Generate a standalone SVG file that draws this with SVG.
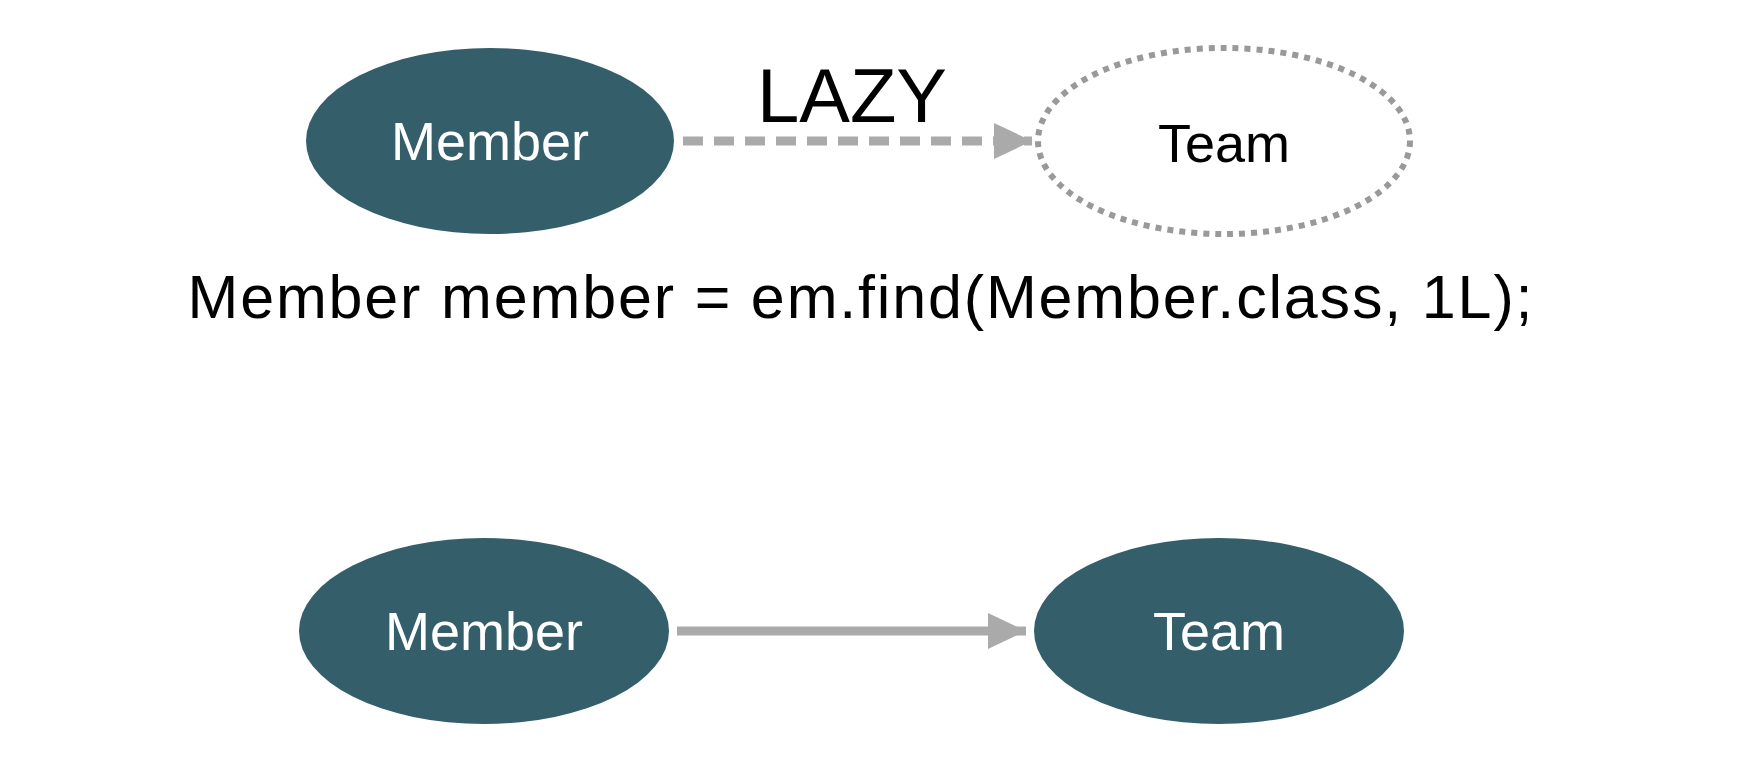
<svg xmlns="http://www.w3.org/2000/svg" width="1740" height="760" viewBox="0 0 1740 760">
<style>
.n{fill:#335E6A}
.t{font-family:"Liberation Sans",Arial,sans-serif;text-anchor:middle}
.w{fill:#fff;font-size:54px}
.b{fill:#000}
</style>
<defs>
<marker id="ah" markerUnits="userSpaceOnUse" markerWidth="40" markerHeight="40" refX="38" refY="20" orient="auto"><path d="M0,2 L38,20 L0,38 Z" fill="#AAAAAA"/></marker>
</defs>
<rect width="1740" height="760" fill="#fff"/>
<g id="connectors">
<line x1="683" y1="141" x2="1032" y2="141" stroke="#AAAAAA" stroke-width="9" stroke-dasharray="20,11" marker-end="url(#ah)"/>
<text class="t b" x="852" y="122" font-size="76">LAZY</text>
<line x1="677" y1="631" x2="1026" y2="631" stroke="#AAAAAA" stroke-width="9" marker-end="url(#ah)"/>
</g>
<g id="member1"><ellipse class="n" cx="490" cy="141" rx="184" ry="93"/><text class="t w" x="490" y="160">Member</text></g>
<g id="team1"><ellipse cx="1224" cy="141" rx="186" ry="93" fill="none" stroke="#999" stroke-width="6" stroke-dasharray="6,6"/><text class="t b" x="1224" y="162" font-size="54">Team</text></g>
<g id="code"><text class="t b" x="860" y="318" font-size="61" textLength="1345">Member member = em.find(Member.class, 1L);</text></g>
<g id="member2"><ellipse class="n" cx="484" cy="631" rx="185" ry="93"/><text class="t w" x="484" y="650">Member</text></g>
<g id="team2"><ellipse class="n" cx="1219" cy="631" rx="185" ry="93"/><text class="t w" x="1219" y="650">Team</text></g>
</svg>
